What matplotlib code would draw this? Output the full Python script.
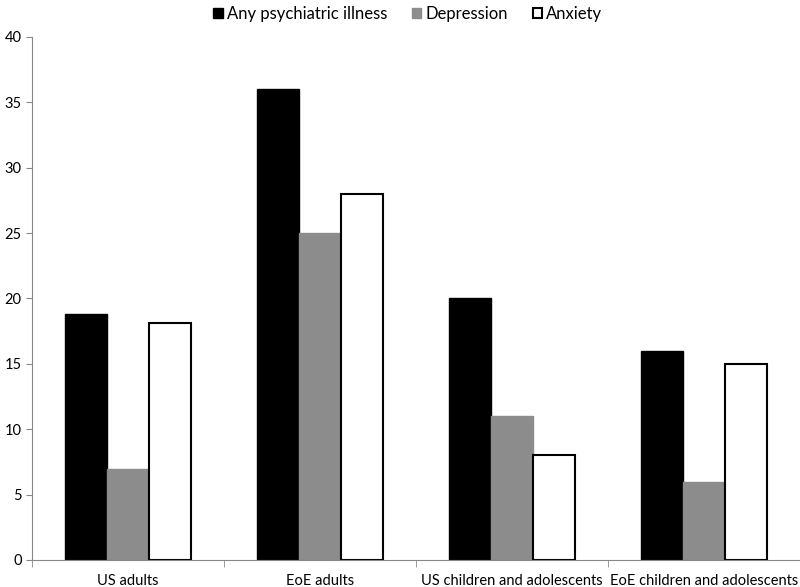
import numpy as np
import matplotlib.pyplot as plt

plt.rcParams['font.family'] = ['Lato', 'DejaVu Sans']

categories = ['US adults', 'EoE adults', 'US children and adolescents', 'EoE children and adolescents']
any_illness = [18.85, 36, 20, 16]
depression = [6.95, 25, 11, 6]
anxiety = [18.1, 28, 8, 15]

x = np.arange(len(categories))
w = 0.22

fig = plt.figure(figsize=(8, 5.87), dpi=100)
ax = fig.add_axes([0.04, 0.046, 0.96, 0.891])

ax.bar(x - w, any_illness, w, color='black', edgecolor='black', linewidth=1, label='Any psychiatric illness')
ax.bar(x, depression, w, color='#8c8c8c', edgecolor='#8c8c8c', linewidth=1, label='Depression')
ax.bar(x + w, anxiety, w, color='white', edgecolor='black', linewidth=1.5, label='Anxiety')

ax.set_xlim(-0.5, 3.5)
ax.set_ylim(0, 40)
ax.set_yticks(range(0, 41, 5))
ax.set_xticks(x)
ax.set_xticklabels(categories, fontsize=10.5)
ax.set_xticks(np.arange(-0.5, 3.6, 1), minor=True)
ax.tick_params(axis='x', which='major', length=0, pad=10)
ax.tick_params(axis='x', which='minor', length=5, color='#888888', direction='out')
ax.tick_params(axis='y', length=4, color='#888888', direction='out', labelsize=10.5)

for s in ['top', 'right']:
    ax.spines[s].set_visible(False)
ax.spines['left'].set_color('#888888')
ax.spines['bottom'].set_color('#888888')

fig.legend(loc='upper center', bbox_to_anchor=(0.51, 1.015), ncol=3, frameon=False,
           fontsize=12, handlelength=0.55, handleheight=0.55, handletextpad=0.25, columnspacing=1.5)

fig.savefig('out.png', dpi=100)
